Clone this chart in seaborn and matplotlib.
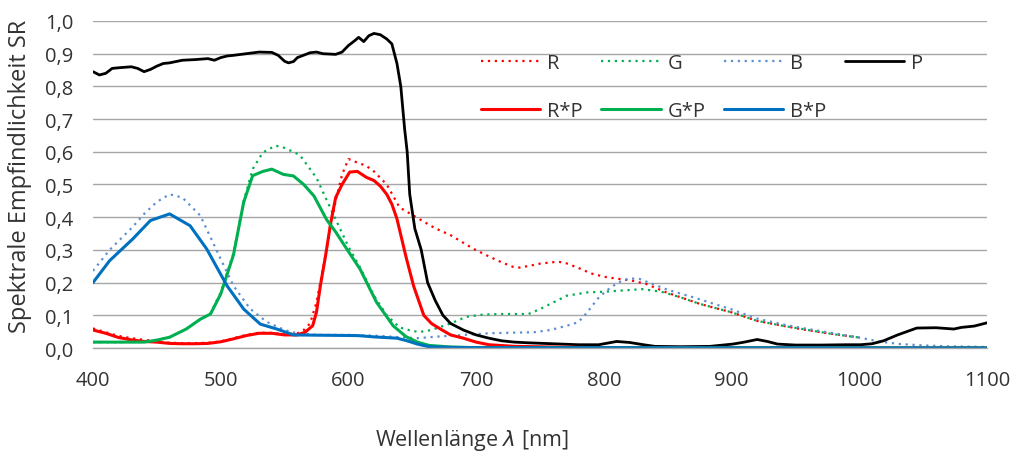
import matplotlib
matplotlib.use("Agg")
import matplotlib.pyplot as plt
from matplotlib.ticker import FuncFormatter, MultipleLocator
import seaborn as sns

# P: Empfindlichkeit des Sensors (schwarz)
wl_p = [400, 405, 410, 415, 420, 430, 435, 440, 445, 450, 455, 460, 470, 480, 490, 495,
        500, 505, 510, 520, 530, 540, 545, 550, 553, 557, 560, 570, 575, 580, 590, 595,
        600, 605, 608, 612, 616, 620, 625, 630, 634, 638, 641, 644, 646, 648, 652, 657,
        662, 668, 674, 680, 690, 700, 710, 720, 730, 740, 760, 780, 796, 810, 820, 831,
        840, 860, 883, 901, 910, 920, 928, 936, 950, 970, 990, 1001, 1010, 1019, 1030,
        1045, 1060, 1074, 1080, 1090, 1100]
sr_p = [0.845, 0.835, 0.84, 0.855, 0.857, 0.86, 0.855, 0.845, 0.852, 0.862, 0.87, 0.872,
        0.88, 0.882, 0.885, 0.88, 0.888, 0.893, 0.895, 0.9, 0.905, 0.904, 0.895, 0.877,
        0.872, 0.876, 0.888, 0.903, 0.905, 0.9, 0.898, 0.905, 0.925, 0.94, 0.95, 0.937,
        0.955, 0.962, 0.958, 0.945, 0.93, 0.87, 0.8, 0.67, 0.6, 0.47, 0.365, 0.3,
        0.2, 0.145, 0.1, 0.075, 0.055, 0.04, 0.03, 0.022, 0.018, 0.016, 0.013, 0.01,
        0.01, 0.02, 0.017, 0.01, 0.005, 0.004, 0.005, 0.012, 0.018, 0.026, 0.02, 0.012,
        0.009, 0.009, 0.01, 0.01, 0.013, 0.022, 0.04, 0.061, 0.062, 0.058, 0.063, 0.067,
        0.077]

# R (gepunktet)
wl_r = [400, 410, 420, 430, 440, 450, 460, 470, 480, 490, 500, 510, 520, 530, 540, 550,
        560, 565, 570, 575, 580, 586, 590, 595, 600, 605, 614, 620, 630, 640, 650, 660,
        668, 680, 698, 710, 720, 729, 734, 740, 750, 764, 770, 780, 790, 800, 810, 822,
        833, 849, 875, 900, 920, 940, 954, 970, 985, 1000]
sr_r = [0.06, 0.048, 0.037, 0.03, 0.025, 0.02, 0.016, 0.015, 0.015, 0.016, 0.02, 0.03,
        0.04, 0.047, 0.046, 0.042, 0.045, 0.055, 0.075, 0.14, 0.24, 0.37, 0.45, 0.53,
        0.578, 0.57, 0.557, 0.54, 0.5, 0.43, 0.407, 0.384, 0.366, 0.345, 0.303, 0.28,
        0.262, 0.248, 0.246, 0.25, 0.258, 0.264, 0.26, 0.245, 0.228, 0.218, 0.212, 0.206,
        0.196, 0.17, 0.135, 0.109, 0.083, 0.068, 0.058, 0.048, 0.04, 0.032]

# G (gepunktet)
wl_g = [400, 420, 440, 450, 460, 473, 484, 492, 500, 510, 518, 525, 533, 543, 550, 562,
        575, 588, 600, 610, 620, 630, 640, 650, 656, 665, 680, 692, 705, 719, 741, 750,
        771, 787, 800, 815, 830, 845, 860, 875, 900, 920, 940, 960, 980, 1000]
sr_g = [0.018, 0.018, 0.02, 0.025, 0.033, 0.058, 0.088, 0.106, 0.17, 0.29, 0.45, 0.547,
        0.598, 0.619, 0.612, 0.59, 0.52, 0.41, 0.31, 0.24, 0.16, 0.1, 0.063, 0.052,
        0.049, 0.055, 0.075, 0.095, 0.102, 0.104, 0.104, 0.119, 0.16, 0.17, 0.172,
        0.176, 0.18, 0.172, 0.155, 0.135, 0.109, 0.083, 0.068, 0.055, 0.042, 0.032]

# B (gepunktet)
wl_b = [400, 413, 431, 440, 450, 460, 470, 484, 500, 510, 523, 536, 550, 560, 575, 600,
        620, 640, 654, 670, 690, 710, 730, 745, 758, 771, 780, 787, 795, 802, 811, 820,
        828, 850, 870, 900, 920, 940, 960, 980, 1000, 1015, 1032, 1050, 1070, 1090, 1100]
sr_b = [0.236, 0.3, 0.37, 0.41, 0.447, 0.47, 0.46, 0.405, 0.272, 0.19, 0.12, 0.08, 0.055,
        0.045, 0.04, 0.04, 0.038, 0.033, 0.03, 0.035, 0.04, 0.045, 0.047, 0.048, 0.055,
        0.068, 0.079, 0.109, 0.15, 0.175, 0.2, 0.213, 0.211, 0.178, 0.155, 0.118, 0.09,
        0.072, 0.058, 0.045, 0.032, 0.02, 0.012, 0.008, 0.005, 0.004, 0.003]

# R*P
wl_rp = [400, 410, 420, 430, 440, 450, 460, 470, 480, 490, 500, 510, 520, 530, 540, 550,
         560, 566, 572, 575, 578, 582, 586, 590, 595, 601, 607, 614, 620, 625, 630, 634,
         638, 645, 651, 659, 665, 672, 680, 690, 700, 710, 730, 760, 800, 1100]
sr_rp = [0.055, 0.045, 0.032, 0.025, 0.02, 0.018, 0.014, 0.013, 0.013, 0.014, 0.019,
         0.028, 0.038, 0.045, 0.045, 0.04, 0.04, 0.048, 0.068, 0.11, 0.19, 0.28, 0.38,
         0.46, 0.5, 0.538, 0.54, 0.522, 0.512, 0.495, 0.47, 0.44, 0.395, 0.28, 0.19, 0.1,
         0.075, 0.058, 0.04, 0.03, 0.018, 0.01, 0.005, 0.003, 0.001, 0.0]

# G*P
wl_gp = [400, 440, 450, 460, 473, 484, 492, 500, 510, 518, 525, 533, 540, 549, 557, 565,
         573, 583, 590, 600, 609, 622, 635, 645, 654, 663, 680, 700, 1100]
sr_gp = [0.018, 0.018, 0.024, 0.033, 0.058, 0.088, 0.104, 0.165, 0.285, 0.446, 0.527,
         0.54, 0.547, 0.531, 0.526, 0.5, 0.465, 0.392, 0.355, 0.295, 0.242, 0.14, 0.068,
         0.035, 0.018, 0.008, 0.003, 0.001, 0.0]

# B*P
wl_bp = [400, 413, 431, 445, 460, 476, 489, 505, 518, 531, 544, 557, 580, 607, 620, 638,
         646, 654, 663, 680, 700, 1100]
sr_bp = [0.2, 0.267, 0.333, 0.39, 0.41, 0.374, 0.303, 0.19, 0.119, 0.073, 0.058, 0.04,
         0.039, 0.038, 0.034, 0.03, 0.022, 0.012, 0.004, 0.002, 0.001, 0.0]

sns.set_theme(style="white")
plt.rcParams['font.family'] = ['Open Sans', 'DejaVu Sans']
text_col = '#333333'
grid_col = '#A6A6A6'

fig, ax = plt.subplots(figsize=(10.14, 4.52), dpi=100)
fig.subplots_adjust(left=93 / 1014, right=987 / 1014, top=1 - 22 / 452, bottom=1 - 349 / 452)

dot = (0, (1, 2.1))
series = [
    (wl_r, sr_r, 'R', '#FF0000', dot, 1.6),
    (wl_g, sr_g, 'G', '#00B050', dot, 1.6),
    (wl_b, sr_b, 'B', '#5B8FD0', dot, 1.6),
    (wl_p, sr_p, 'P', '#000000', '-', 2.0),
    (wl_rp, sr_rp, 'R*P', '#FF0000', '-', 2.2),
    (wl_gp, sr_gp, 'G*P', '#00B050', '-', 2.2),
    (wl_bp, sr_bp, 'B*P', '#0070C0', '-', 2.2),
]
for wl, sr, lab, col, ls, lw in series:
    sns.lineplot(x=wl, y=sr, ax=ax, label=lab, color=col, linestyle=ls, linewidth=lw)

ax.set_xlim(400, 1100)
ax.set_ylim(0, 1.0)
ax.xaxis.set_major_locator(MultipleLocator(100))
ax.yaxis.set_major_locator(MultipleLocator(0.1))
ax.yaxis.set_major_formatter(FuncFormatter(lambda v, p: f"{v:.1f}".replace('.', ',')))
ax.grid(axis='y', color=grid_col, linewidth=1.0)
ax.grid(axis='x', visible=False)
for s in ['top', 'right', 'left']:
    ax.spines[s].set_visible(False)
ax.spines['bottom'].set_color(grid_col)
ax.spines['bottom'].set_linewidth(1.0)
ax.tick_params(axis='both', labelsize=14.5, colors=text_col)
ax.tick_params(axis='x', direction='out', length=5, width=1, color=grid_col, pad=11)
ax.tick_params(axis='y', direction='out', length=5, width=1, color=grid_col, pad=9)

ax.set_ylabel('Spektrale Empfindlichkeit SR', fontsize=17, color=text_col)
ax.yaxis.set_label_coords(-0.068, 0.529)
ax.set_xlabel(r'Wellenlänge $\lambda$ [nm]', fontsize=15.5, color=text_col)
ax.xaxis.set_label_coords((472 - 93) / 894, -0.243)

handles, labels = ax.get_legend_handles_labels()
order = [0, 4, 1, 5, 2, 6, 3]
ax.legend([handles[i] for i in order], [labels[i] for i in order], ncol=4,
          loc='upper left', bbox_to_anchor=(0.434, 0.902), frameon=False,
          fontsize=14.5, borderpad=0, borderaxespad=0, handlelength=2.95,
          handletextpad=0.35, columnspacing=0.9, labelspacing=1.38,
          labelcolor=text_col)

fig.savefig('out.png', dpi=100)
